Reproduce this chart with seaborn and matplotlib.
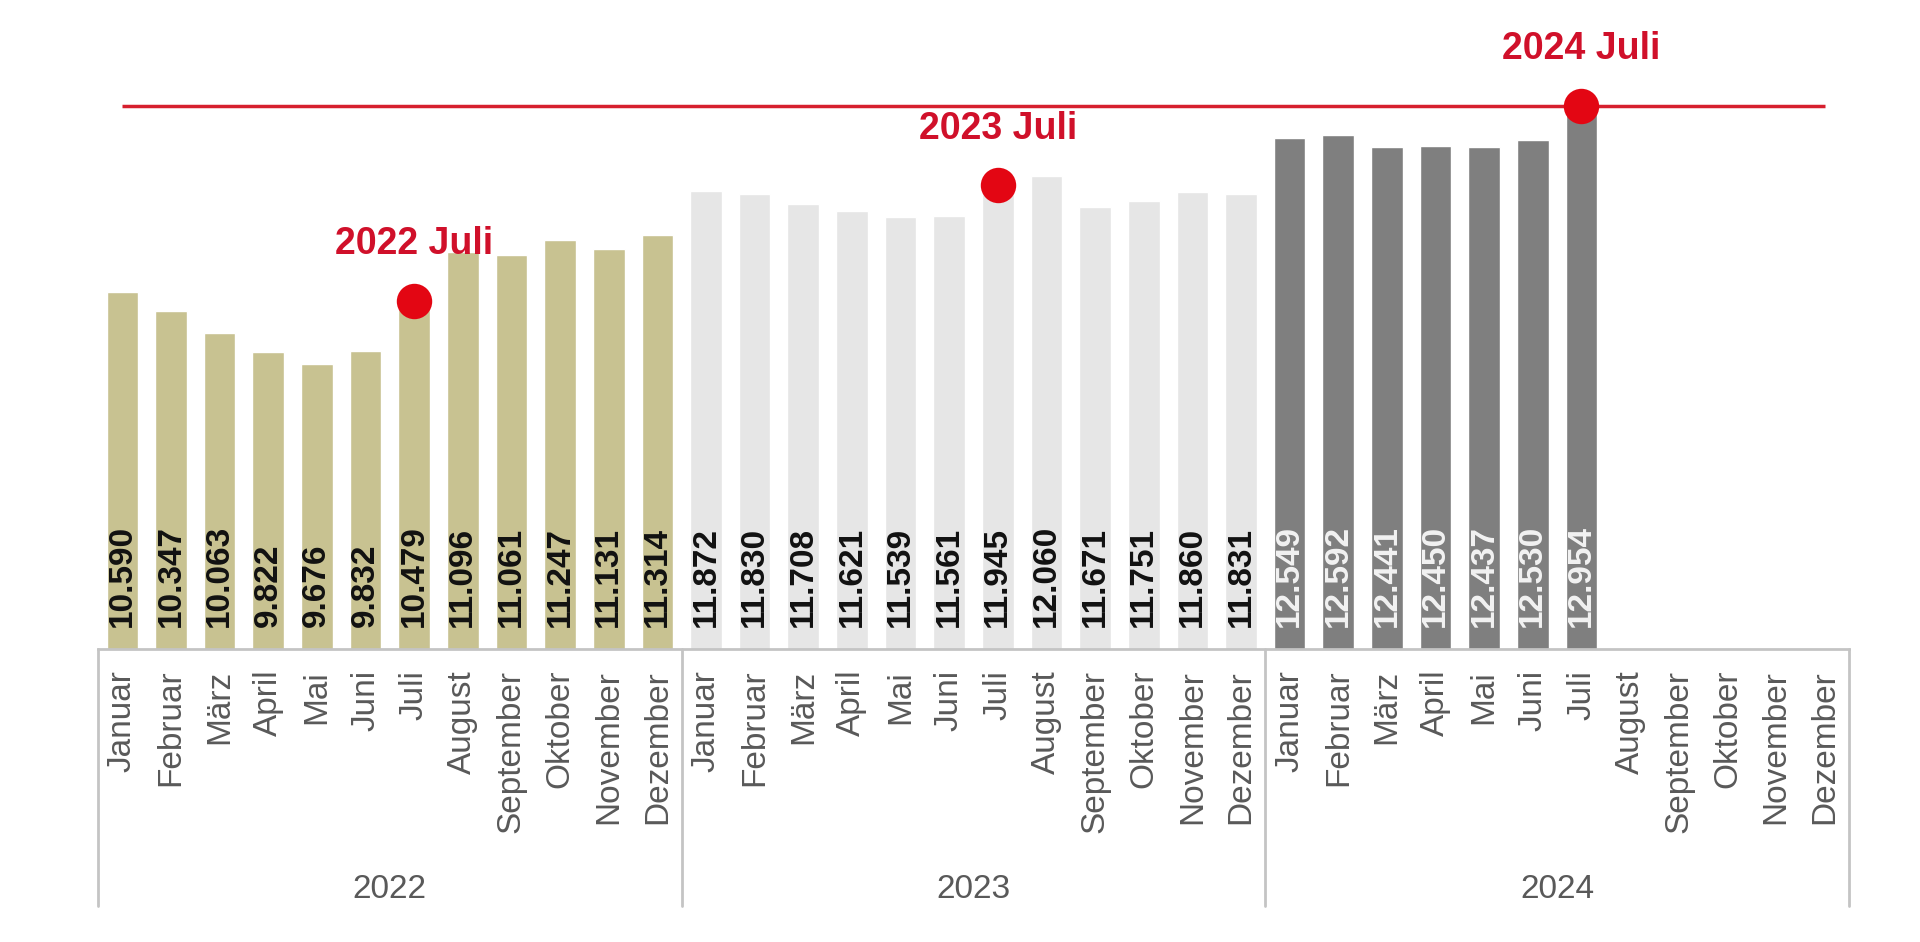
import pandas as pd
import numpy as np
import matplotlib
matplotlib.use("Agg")
import matplotlib.pyplot as plt
import matplotlib.transforms as mtransforms
import seaborn as sns

months = ["Januar", "Februar", "März", "April", "Mai", "Juni", "Juli",
          "August", "September", "Oktober", "November", "Dezember"]
years = ["2022", "2023", "2024"]
values_2022 = [10590, 10347, 10063, 9822, 9676, 9832, 10479, 11096, 11061, 11247, 11131, 11314]
values_2023 = [11872, 11830, 11708, 11621, 11539, 11561, 11945, 12060, 11671, 11751, 11860, 11831]
values_2024 = [12549, 12592, 12441, 12450, 12437, 12530, 12954]
highlight_month = "Juli"

bar_colors = {"2022": "#C8C291", "2023": "#E6E6E6", "2024": "#7F7F7F"}
text_colors = {"2022": "#111111", "2023": "#111111", "2024": "#F2F2F2"}
red = "#E30613"

rows = []
for yr, vals in zip(years, [values_2022, values_2023, values_2024]):
    for m, v in zip(months, vals):
        rows.append({"year": yr, "month": m, "key": f"{yr}-{m}", "value": v})
df = pd.DataFrame(rows)
order = [f"{yr}-{m}" for yr in years for m in months]

sns.set_style("white")
plt.rcParams["font.family"] = ["Liberation Sans", "DejaVu Sans"]

fig = plt.figure(figsize=(19.2, 9.42), dpi=100)
ax = fig.add_axes([98 / 1920, 293 / 942, 1751 / 1920, 649 / 942])

sns.barplot(data=df, x="key", y="value", hue="year", order=order,
            palette=bar_colors, dodge=False, width=0.65, legend=False,
            saturation=1, ax=ax)

ymin = 6040
ax.set_ylim(ymin, ymin + 649 / 0.0785)
ax.set_xlim(-0.5, len(order) - 0.5)

# value labels inside bars
for _, r in df.iterrows():
    i = order.index(r["key"])
    ax.annotate(f"{r['value'] / 1000:.3f}", xy=(i, ymin), xytext=(0, 16),
                textcoords="offset points", rotation=90, ha="center", va="bottom",
                fontsize=24, fontweight="bold", color=text_colors[r["year"]])

# max line and highlight dots
vmax = df["value"].max()
ax.hlines(vmax, 0, len(order) - 1, color="#D61F2E", lw=2.5, zorder=3)
hl = df[df["month"] == highlight_month]
xs = [order.index(k) for k in hl["key"]]
ax.scatter(xs, hl["value"], s=650, color=red, zorder=4, linewidths=0)
for x, (_, r) in zip(xs, hl.iterrows()):
    ax.annotate(f"{r['year']} {r['month']}", xy=(x, r["value"]), xytext=(0, 41),
                textcoords="offset points", ha="center", va="center",
                fontsize=27, fontweight="bold", color="#D0102A")

# axis and labels
ax.set_xticks(range(len(order)))
ax.set_xticklabels(months * len(years), rotation=90, fontsize=24, color="#595959")
ax.tick_params(axis="x", length=0, pad=15)
ax.set_yticks([])
ax.set_xlabel("")
ax.set_ylabel("")
for s in ["top", "left", "right"]:
    ax.spines[s].set_visible(False)
ax.spines["bottom"].set_color("#C4C4C4")
ax.spines["bottom"].set_linewidth(2)

trans = mtransforms.blended_transform_factory(ax.transData, ax.transAxes)
for k in range(len(years) + 1):
    ax.plot([k * 12 - 0.5] * 2, [0, -0.396], color="#C4C4C4", lw=2,
            transform=trans, clip_on=False)
for k, yr in enumerate(years):
    ax.text(k * 12 + 5.5, -0.37, yr, transform=trans, ha="center", va="center",
            fontsize=24, color="#595959")

fig.savefig("out.png", dpi=100)
